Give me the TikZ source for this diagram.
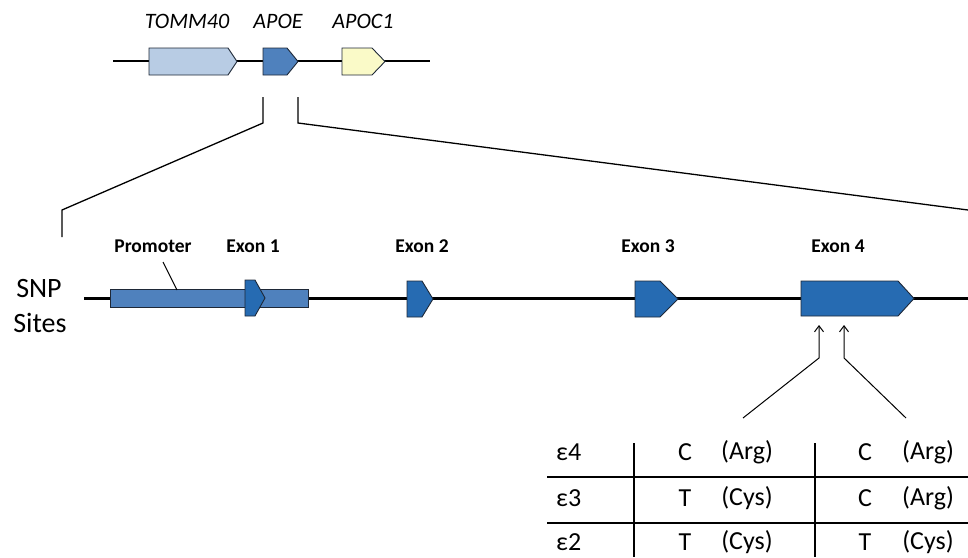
\documentclass[tikz,border=0pt]{standalone}
\usepackage{fontspec}
\setmainfont{Carlito}
\usetikzlibrary{arrows.meta}
\definecolor{tommc}{RGB}{184,204,228}
\definecolor{apoec}{RGB}{79,129,189}
\definecolor{apocc}{RGB}{250,250,200}
\definecolor{exonc}{RGB}{38,107,178}
\definecolor{edgec}{RGB}{30,40,55}
\tikzset{
  genebox/.style={draw=edgec, line width=0.9pt},
  backbone/.style={draw=black, line width=1.3pt},
  mainline/.style={draw=black, line width=3pt},
  thinline/.style={draw=black, line width=1pt},
  genename/.style={font=\fontsize{22}{26}\selectfont\itshape, inner sep=0pt},
  exonlabel/.style={font=\fontsize{19.5}{23}\selectfont\bfseries, inner sep=0pt},
  bigtext/.style={font=\fontsize{28}{33}\selectfont, inner sep=0pt},
  tabtext/.style={font=\fontsize{26}{31}\selectfont, inner sep=0pt},
}
% pentagon arrow: left, rect right, tip, top, bottom, fill
\newcommand{\pentarrow}[6]{%
  \fill[#6] (#1,#4) -- (#2,#4) -- (#3,{(#4+#5)/2}) -- (#2,#5) -- (#1,#5) -- cycle;
  \draw[genebox] (#1,#4) -- (#2,#4) -- (#3,{(#4+#5)/2}) -- (#2,#5) -- (#1,#5) -- cycle;}
\begin{document}
\begin{tikzpicture}[x=1pt,y=-1pt]
\useasboundingbox (0,0) rectangle (968,557);
% ---- top gene cluster
\coordinate (tl) at (113,61);
\coordinate (tr) at (430,61);
\draw[backbone] (tl) -- (tr);
\pentarrow{149}{228}{237}{48}{75}{tommc}
\pentarrow{263}{287}{298}{48}{75}{apoec}
\pentarrow{342}{372}{385}{48}{75}{apocc}
\node[genename] (tomm) at (187,21) {TOMM40};
\node[genename] (apoe) at (278,21) {APOE};
\node[genename] (apoc) at (363,21) {APOC1};
% ---- zoom lines
\coordinate (zl0) at (263,97);
\coordinate (zl1) at (263,123);
\coordinate (zl2) at (62,210);
\coordinate (zl3) at (62,237);
\coordinate (zr0) at (298,97);
\coordinate (zr1) at (298,123);
\coordinate (zr2) at (968,210);
\draw[thinline,line width=1.3pt] (zl0) -- (zl1) -- (zl2) -- (zl3);
\draw[thinline,line width=1.3pt] (zr0) -- (zr1) -- (zr2);
% ---- SNP label
\node[bigtext] (snp) at (39,289) {SNP};
\node[bigtext] (sites) at (40,323) {Sites};
% ---- main gene line
\coordinate (ml) at (84,298);
\coordinate (mr) at (968,298);
\draw[mainline] (ml) -- (mr);
% promoter
\draw[genebox, fill=apoec] (110,289) rectangle (308,307);
\pentarrow{245}{255}{265}{280}{316}{exonc}
\pentarrow{407}{422}{433}{281}{317}{exonc}
\pentarrow{635}{660}{678}{281}{317}{exonc}
\pentarrow{801}{898}{914}{281}{316}{exonc}
\node[exonlabel] (prom) at (153,246) {Promoter};
\node[exonlabel] (ex1) at (253,246) {Exon 1};
\node[exonlabel] (ex2) at (422,246) {Exon 2};
\node[exonlabel] (ex3) at (648,246) {Exon 3};
\node[exonlabel] (ex4) at (838,246) {Exon 4};
\coordinate (pl0) at (163,262);
\coordinate (pl1) at (177,290);
\draw[black, line width=0.9pt] (pl0) -- (pl1);
% ---- SNP arrows
\coordinate (a1t) at (819,325);
\coordinate (a1b) at (819,358);
\coordinate (a1e) at (743,418);
\coordinate (a2t) at (844,325);
\coordinate (a2b) at (844,358);
\coordinate (a2e) at (906,418);
\draw[thinline, -{Straight Barb[length=6pt,width=9pt]}] (a1e) -- (a1b) -- (a1t);
\draw[thinline, -{Straight Barb[length=6pt,width=9pt]}] (a2e) -- (a2b) -- (a2t);
% ---- table
\draw[thinline, line width=1.6pt] (547,477) -- (968,477);
\draw[thinline, line width=1.6pt] (547,523) -- (968,523);
\draw[thinline, line width=1.6pt] (634,443) -- (634,557);
\draw[thinline, line width=1.6pt] (815,443) -- (815,557);
\node[tabtext, anchor=west] (e4) at (556,452) {ε4};
\node[tabtext, anchor=west] (e3) at (556,498) {ε3};
\node[tabtext, anchor=west] (e2) at (556,542) {ε2};
\node[tabtext] (c41) at (685,452) {C};
\node[tabtext] (a41) at (747,452) {(Arg)};
\node[tabtext] (c42) at (865,452) {C};
\node[tabtext] (a42) at (928,452) {(Arg)};
\node[tabtext] (c31) at (685,498) {T};
\node[tabtext] (a31) at (747,498) {(Cys)};
\node[tabtext] (c32) at (865,498) {C};
\node[tabtext] (a32) at (928,498) {(Arg)};
\node[tabtext] (c21) at (685,542) {T};
\node[tabtext] (a21) at (747,542) {(Cys)};
\node[tabtext] (c22) at (865,542) {T};
\node[tabtext] (a22) at (928,542) {(Cys)};
\end{tikzpicture}
\end{document}
